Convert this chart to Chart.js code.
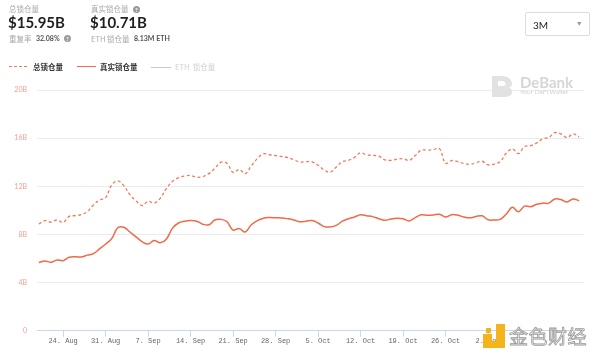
<!DOCTYPE html>
<html>
<head>
<meta charset="utf-8">
<script src="https://cdn.jsdelivr.net/npm/chart.js@4/dist/chart.umd.min.js"></script>
<style>
  html,body{margin:0;padding:0;background:#fff;width:600px;height:358px;overflow:hidden;font-family:Lato,"Noto Sans CJK SC",sans-serif;}
  #wrap{position:absolute;left:0;top:0;width:600px;height:358px;}
  .abs{position:absolute;white-space:nowrap;line-height:1;}
  .lbl{font-family:"Noto Sans CJK SC",sans-serif;font-size:7.5px;color:#a8a8a8;}
  .big{font-family:Lato,sans-serif;font-weight:700;font-size:15px;color:#1f1f1f;}
  .val{font-family:Lato,sans-serif;font-size:7.5px;color:#555;font-weight:700;}
  .q{display:inline-block;width:7px;height:7px;border-radius:50%;background:#9a9a9a;color:#fff;font-size:6px;text-align:center;line-height:7px;font-weight:700;font-family:Lato,sans-serif;}
  .leg{font-family:"Noto Sans CJK SC",sans-serif;font-size:7.5px;}
</style>
</head>
<body>
<div id="wrap"><canvas id="c" width="600" height="358"></canvas></div>

<!-- header -->
<div class="abs lbl" style="left:9px;top:5px;">总锁仓量</div>
<div class="abs big" style="left:8px;top:15px;">$15.95B</div>
<div class="abs lbl" style="left:9px;top:35px;">重复率</div>
<div class="abs val" style="left:36px;top:35px;font-size:7px;">32.08%</div>
<div class="abs q" style="left:64px;top:34.5px;">?</div>

<div class="abs lbl" style="left:91px;top:5px;">真实锁仓量</div>
<div class="abs q" style="left:133px;top:5.5px;">?</div>
<div class="abs big" style="left:90px;top:15px;">$10.71B</div>
<div class="abs lbl" style="left:91px;top:35px;">ETH 锁仓量</div>
<div class="abs val" style="left:134px;top:35px;font-size:7px;">8.13M ETH</div>

<!-- dropdown -->
<div class="abs" style="left:525px;top:12px;width:65px;height:24px;border:1px solid #dcdcdc;border-radius:2px;box-sizing:border-box;"></div>
<div class="abs" style="left:533px;top:20px;font-family:Lato,sans-serif;font-size:10px;color:#222;">3M</div>
<div class="abs" style="left:577px;top:22px;font-size:4.5px;color:#999;">▼</div>

<!-- legend -->
<div class="abs" style="left:9px;top:66px;width:18px;border-top:1.5px dashed #f07a5a;"></div>
<div class="abs leg" style="left:33px;top:63px;color:#333;font-weight:700;">总锁仓量</div>
<div class="abs" style="left:77px;top:66px;width:19px;border-top:1.5px solid #f06a47;"></div>
<div class="abs leg" style="left:100px;top:63px;color:#333;font-weight:700;">真实锁仓量</div>
<div class="abs" style="left:151px;top:66.5px;width:20px;border-top:1px solid #c8c8c8;"></div>
<div class="abs leg" style="left:175px;top:63px;color:#d0d0d0;">ETH&nbsp;&nbsp;锁仓量</div>

<!-- DeBank watermark -->
<svg class="abs" style="left:491px;top:75px;" width="22" height="23" viewBox="0 0 22 23">
  <path d="M1 1 H11 C18 1 21 5 21 9 C21 11 20 12 18 12.5 C20.5 13.5 21 15.5 21 17 C21 20.5 18 22 12 22 H1 Z" fill="#e2e2e2"/>
  <path d="M7 6 H11 C13.5 6 14.5 7.5 14.5 9 C14.5 10.5 13.5 11 11 11 H7 Z" fill="#fff"/>
</svg>
<div class="abs" style="left:520px;top:75px;font-family:Lato,sans-serif;font-weight:700;font-size:15px;color:#d6d6d6;">DeBank</div>
<div class="abs" style="left:520px;top:89px;font-family:Lato,sans-serif;font-size:6.5px;color:#d2d2d2;">Your DeFi Wallet</div>

<!-- 金色财经 watermark -->
<svg class="abs" style="left:483px;top:324px;" width="22" height="24" viewBox="0 0 22 24">
  <rect x="0" y="10" width="9" height="14" fill="#f6b41c"/>
  <rect x="9" y="17" width="13" height="7" fill="#f6b41c"/>
  <rect x="13" y="0" width="9" height="17" fill="#f6b41c"/>
  <rect x="3" y="4" width="5" height="5" fill="#f6b41c"/>
</svg>
<div class="abs" style="left:509px;top:326px;font-family:'Noto Sans CJK SC',sans-serif;font-size:19px;color:#f4f4f4;-webkit-text-stroke:0.8px #9a9a9a;letter-spacing:0.5px;">金色财经</div>

<script>
// Data: daily points from Aug 20 to Nov 17
const dates = [
  "Aug 20","Aug 21","Aug 22","Aug 23","Aug 24","Aug 25","Aug 26","Aug 27","Aug 28","Aug 29",
  "Aug 30","Aug 31","Sep 1","Sep 2","Sep 3","Sep 4","Sep 5","Sep 6","Sep 7","Sep 8",
  "Sep 9","Sep 10","Sep 11","Sep 12","Sep 13","Sep 14","Sep 15","Sep 16","Sep 17","Sep 18",
  "Sep 19","Sep 20","Sep 21","Sep 22","Sep 23","Sep 24","Sep 25","Sep 26","Sep 27","Sep 28",
  "Sep 29","Sep 30","Oct 1","Oct 2","Oct 3","Oct 4","Oct 5","Oct 6","Oct 7","Oct 8",
  "Oct 9","Oct 10","Oct 11","Oct 12","Oct 13","Oct 14","Oct 15","Oct 16","Oct 17","Oct 18",
  "Oct 19","Oct 20","Oct 21","Oct 22","Oct 23","Oct 24","Oct 25","Oct 26","Oct 27","Oct 28",
  "Oct 29","Oct 30","Oct 31","Nov 1","Nov 2","Nov 3","Nov 4","Nov 5","Nov 6","Nov 7",
  "Nov 8","Nov 9","Nov 10","Nov 11","Nov 12","Nov 13","Nov 14","Nov 15","Nov 16","Nov 17"
];
// 总锁仓量 (B)
const totalTVL = [
  8.87,9.15,9.02,9.2,9.0,9.5,9.56,9.65,9.9,10.45,
  10.85,11.05,12.1,12.45,12.05,11.3,10.8,10.4,10.75,10.6,
  11.0,11.8,12.4,12.7,12.85,12.9,12.75,12.8,13.05,13.5,
  14.0,13.9,13.15,13.4,13.05,13.7,14.3,14.7,14.62,14.55,
  14.48,14.38,14.2,14.02,14.05,14.03,13.75,13.35,13.17,13.6,
  14.05,14.15,14.4,14.78,14.6,14.57,14.5,14.2,14.15,14.25,
  14.3,14.15,14.55,15.0,15.0,15.05,15.13,13.9,14.14,14.05,
  13.9,13.82,13.95,14.08,13.78,13.85,14.05,14.75,15.1,14.72,
  15.3,15.38,15.6,15.95,16.05,16.45,16.35,16.05,16.35,16.1
];
// 真实锁仓量 (B)
const realTVL = [
  5.67,5.8,5.68,5.88,5.82,6.1,6.15,6.12,6.28,6.4,
  6.8,7.2,7.65,8.55,8.6,8.2,7.8,7.4,7.2,7.5,
  7.3,7.6,8.5,8.95,9.1,9.15,9.1,8.85,8.8,9.2,
  9.25,9.05,8.35,8.5,8.2,8.8,9.15,9.35,9.4,9.38,
  9.37,9.3,9.2,9.05,9.1,9.15,8.95,8.65,8.62,8.75,
  9.1,9.3,9.45,9.63,9.55,9.48,9.3,9.18,9.28,9.35,
  9.3,9.12,9.4,9.63,9.6,9.62,9.68,9.45,9.64,9.6,
  9.45,9.38,9.48,9.55,9.22,9.2,9.25,9.7,10.25,9.88,
  10.35,10.3,10.5,10.6,10.6,10.95,10.9,10.7,10.95,10.8
];
// x tick labels (weekly) and their day offsets relative to Aug 24
const tickLabels = ["24. Aug","31. Aug","7. Sep","14. Sep","21. Sep","28. Sep","5. Oct","12. Oct","19. Oct","26. Oct","2. Nov"];
const tickDays = [0,7,14,21,28,35,42,49,56,63,70];
const yTicks = [0,4,8,12,16,20];

const firstDayOffset = -4; // Aug 20 relative to Aug 24
const toPoints = arr => arr.map((v,i)=>({x:i+firstDayOffset, y:v}));

new Chart(document.getElementById('c'), {
  type:'line',
  data:{
    datasets:[
      {label:'总锁仓量', data:toPoints(totalTVL), borderColor:'#f07a5a', borderWidth:1.3, borderDash:[3,2.5], pointRadius:0, tension:0.4, fill:false},
      {label:'真实锁仓量', data:toPoints(realTVL), borderColor:'#f06a47', borderWidth:1.5, pointRadius:0, tension:0.4, fill:false}
    ]
  },
  options:{
    responsive:false, animation:false,
    layout:{padding:{top:90,right:16,left:0,bottom:0}},
    plugins:{legend:{display:false}, tooltip:{enabled:false}},
    scales:{
      x:{
        type:'linear', min:-4.3, max:85.8,
        afterBuildTicks: s => { s.ticks = tickDays.map(v=>({value:v})); },
        afterFit: s => { s.height = 27.3; },
        grid:{drawOnChartArea:false, tickLength:6, color:'#ccd6eb', lineWidth:1},
        border:{color:'#ccd6eb', width:1},
        ticks:{
          autoSkip:false, maxRotation:0, padding:0,
          callback:(v,i)=>tickLabels[tickDays.indexOf(v)],
          font:{family:'Liberation Mono', size:7}, color:'#666'
        }
      },
      y:{
        min:0, max:20,
        afterBuildTicks: s => { s.ticks = yTicks.map(v=>({value:v})); },
        afterFit: s => { s.width = 37; },
        grid:{color:'#ebebeb', drawTicks:false, lineWidth:1},
        border:{display:false},
        ticks:{
          padding:10,
          callback:v=> v===0 ? '0' : v+'B',
          font:{family:'Lato', size:7}, color:'#f2a090'
        }
      }
    }
  }
});
</script>
</body>
</html>
